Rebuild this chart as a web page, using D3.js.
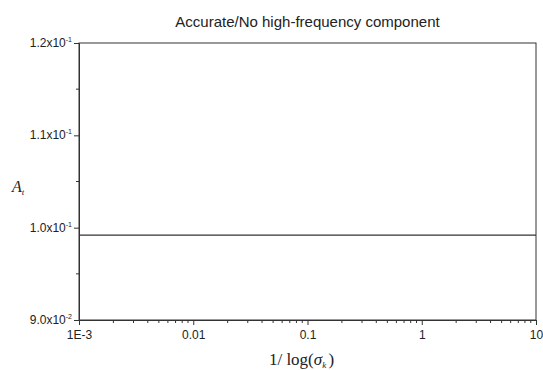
<!DOCTYPE html>
<html>
<head>
<meta charset="utf-8">
<script src="https://cdn.jsdelivr.net/npm/d3@7"></script>
<style>
  body { margin: 0; background: #fff; }
  text { font-family: Arial, "Liberation Sans", sans-serif; fill: #222; }
</style>
</head>
<body>
<div id="chart"></div>
<script>
// data
var xValues = [0.001, 10];
var yValues = [0.0992, 0.0992];
var yTicks = [0.09, 0.10, 0.11, 0.12];
var yTickLabels = [["9.0x10", "-2"], ["1.0x10", "-1"], ["1.1x10", "-1"], ["1.2x10", "-1"]];
var yMinorTicks = [0.095, 0.105, 0.115];
var xTicks = [0.001, 0.01, 0.1, 1, 10];
var xTickLabels = ["1E-3", "0.01", "0.1", "1", "10"];
var titleText = "Accurate/No high-frequency component";

var width = 543, height = 370;
var margin = {left: 79, right: 7, top: 43, bottom: 50};

var svg = d3.select('#chart').append('svg').attr('width', width).attr('height', height);

var x = d3.scaleLog().domain([0.001, 10]).range([margin.left, width - margin.right]);
var y = d3.scaleLinear().domain([0.09, 0.12]).range([height - margin.bottom, margin.top]);

// frame
svg.append('rect')
  .attr('x', x(0.001)).attr('y', y(0.12))
  .attr('width', x(10) - x(0.001)).attr('height', y(0.09) - y(0.12))
  .attr('fill', 'none').attr('stroke', '#333').attr('stroke-width', 1);

// x axis ticks
var xMinor = [];
for (var e = -3; e < 1; e++) {
  for (var m = 2; m < 10; m++) xMinor.push(m * Math.pow(10, e));
}
var xAxis = d3.axisBottom(x).tickValues(xTicks).tickSize(5)
  .tickFormat(function(d, i) { return xTickLabels[i]; });
var gx = svg.append('g').attr('transform', 'translate(0,' + y(0.09) + ')').call(xAxis);
svg.append('g').selectAll('line').data(xMinor).enter().append('line')
  .attr('x1', function(d) { return x(d); }).attr('x2', function(d) { return x(d); })
  .attr('y1', y(0.09)).attr('y2', y(0.09) + 3)
  .attr('stroke', '#333');

// y axis ticks
var yAxis = d3.axisLeft(y).tickValues(yTicks).tickSize(5).tickFormat('');
var gy = svg.append('g').attr('transform', 'translate(' + x(0.001) + ',0)').call(yAxis);
svg.append('g').selectAll('line').data(yMinorTicks).enter().append('line')
  .attr('x1', x(0.001) - 3).attr('x2', x(0.001))
  .attr('y1', function(d) { return y(d); }).attr('y2', function(d) { return y(d); })
  .attr('stroke', '#333');

[gx, gy].forEach(function(g) {
  g.select('.domain').attr('stroke', '#333');
  g.selectAll('.tick line').attr('stroke', '#333');
  g.selectAll('.tick text').attr('font-size', 12).attr('fill', '#222')
    .attr('font-family', 'Arial, "Liberation Sans", sans-serif');
});
gx.selectAll('.tick text').attr('y', 10);

// y tick labels with superscripts
var ylab = svg.append('g').selectAll('text').data(yTicks).enter().append('text')
  .attr('x', x(0.001) - 7)
  .attr('y', function(d) { return y(d) + 4; })
  .attr('text-anchor', 'end')
  .attr('font-size', 12);
ylab.append('tspan').text(function(d, i) { return yTickLabels[i][0]; });
ylab.append('tspan').attr('dy', -5).attr('font-size', 7).text(function(d, i) { return yTickLabels[i][1]; });

// line
svg.append('path')
  .datum(xValues.map(function(d, i) { return [d, yValues[i]]; }))
  .attr('fill', 'none').attr('stroke', '#333').attr('stroke-width', 1.2)
  .attr('d', d3.line().x(function(d) { return x(d[0]); }).y(function(d) { return y(d[1]); }));

// title
svg.append('text').attr('x', (x(0.001) + x(10)) / 2).attr('y', 27)
  .attr('text-anchor', 'middle').attr('font-size', 15).text(titleText);

// axis titles
var xt = svg.append('text').attr('x', (x(0.001) + x(10)) / 2 - 6).attr('y', 365)
  .attr('text-anchor', 'middle').attr('font-size', 17)
  .style('font-family', '"Liberation Serif", "Times New Roman", serif');
xt.append('tspan').text('1/ log(');
xt.append('tspan').attr('font-style', 'italic').text('σ');
xt.append('tspan').attr('font-style', 'italic').attr('font-size', 9).attr('dy', 3).text('k ');
xt.append('tspan').attr('dy', -3).text(')');

var yt = svg.append('text').attr('x', 12).attr('y', 192)
  .attr('font-size', 16).style('font-family', '"Liberation Serif", "Times New Roman", serif')
  .attr('font-style', 'italic');
yt.append('tspan').text('A');
yt.append('tspan').attr('font-size', 9).attr('dy', 3).text('t');
</script>
</body>
</html>
